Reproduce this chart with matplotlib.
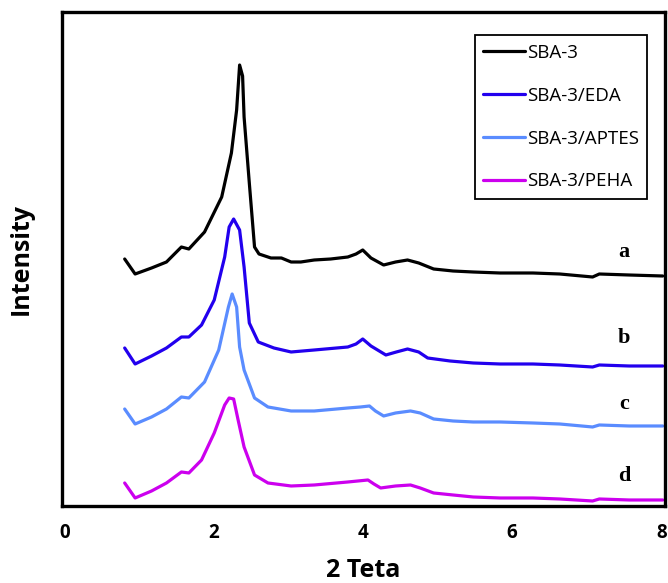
import matplotlib
matplotlib.use('Agg')
import matplotlib.pyplot as plt

# 2 theta positions and intensities (arbitrary units)
x_a = [0.81, 0.95, 1.17, 1.37, 1.57, 1.67, 1.88, 2.11, 2.24, 2.31, 2.35, 2.39, 2.41, 2.48,
       2.55, 2.61, 2.77, 2.91, 3.04, 3.17, 3.35, 3.57, 3.80, 3.91, 4.00, 4.11, 4.28, 4.44,
       4.60, 4.75, 4.95, 5.21, 5.48, 5.84, 6.28, 6.64, 7.08, 7.17, 7.57, 8.02]
y_a = [247, 232, 238, 244, 259, 257, 274, 309, 353, 396, 441, 430, 389, 323,
       259, 252, 248, 248, 244, 244, 246, 247, 249, 252, 256, 248, 241, 244,
       246, 243, 237, 235, 234, 233, 233, 232, 229, 232, 231, 230]

x_b = [0.81, 0.95, 1.17, 1.37, 1.57, 1.67, 1.84, 2.01, 2.15, 2.21, 2.27, 2.35, 2.41, 2.48,
       2.60, 2.81, 3.04, 3.35, 3.80, 3.91, 4.00, 4.11, 4.31, 4.45, 4.60, 4.75, 4.87, 5.17,
       5.48, 5.84, 6.28, 6.64, 7.08, 7.17, 7.57, 8.02]
y_b = [158, 142, 150, 158, 169, 169, 181, 206, 249, 279, 287, 276, 239, 183,
       164, 158, 154, 156, 159, 162, 167, 160, 151, 154, 157, 154, 148, 145,
       143, 142, 142, 141, 139, 141, 140, 140]

x_c = [0.81, 0.95, 1.17, 1.37, 1.57, 1.67, 1.88, 2.07, 2.20, 2.25, 2.31, 2.35, 2.41, 2.55,
       2.73, 3.04, 3.35, 3.80, 3.97, 4.09, 4.17, 4.28, 4.44, 4.64, 4.77, 4.95, 5.21, 5.48,
       5.84, 6.28, 6.64, 7.08, 7.17, 7.57, 8.02]
y_c = [97, 82, 89, 97, 109, 108, 124, 156, 199, 212, 199, 159, 136, 108,
       99, 95, 95, 98, 99, 100, 95, 90, 93, 95, 93, 87, 85, 84,
       84, 83, 82, 79, 81, 80, 80]

x_d = [0.81, 0.95, 1.17, 1.37, 1.57, 1.67, 1.84, 2.01, 2.15, 2.21, 2.27, 2.33, 2.41, 2.55,
       2.73, 3.04, 3.35, 3.80, 4.07, 4.15, 4.24, 4.44, 4.64, 4.77, 4.95, 5.21, 5.48, 5.84,
       6.28, 6.64, 7.08, 7.17, 7.57, 8.02]
y_d = [23, 8, 15, 23, 34, 33, 46, 73, 101, 108, 107, 86, 59, 31,
       23, 20, 21, 24, 26, 22, 18, 20, 21, 18, 13, 11, 9, 8,
       8, 7, 5, 7, 6, 6]

series = [
    ("SBA-3", x_a, y_a, "black", "a"),
    ("SBA-3/EDA", x_b, y_b, "#2200ee", "b"),
    ("SBA-3/APTES", x_c, y_c, "#5a8cff", "c"),
    ("SBA-3/PEHA", x_d, y_d, "#cc00ee", "d"),
]
letter_y = [254, 168, 102, 30]

fig = plt.figure(figsize=(6.68, 5.83), dpi=100)
ax = fig.add_axes([0.0928, 0.1321, 0.9027, 0.8473])

for (name, xs, ys, col, lab), ly in zip(series, letter_y):
    ax.plot(xs, ys, color=col, lw=2.3, label=name, solid_joinstyle='round', solid_capstyle='round')
    ax.text(7.5, ly, lab, family='Liberation Serif', fontweight='bold', fontsize=16,
            ha='center', va='center')

ax.set_xlim(-0.03, 8.05)
ax.set_ylim(0, 494)
ax.set_xticks([0, 2, 4, 6, 8])
ax.set_yticks([])
ax.tick_params(axis='x', length=0, pad=12)
for t in ax.get_xticklabels():
    t.set_family('Open Sans'); t.set_fontweight('bold'); t.set_fontsize(13.5)
for sp in ax.spines.values():
    sp.set_linewidth(2.4)

ax.set_xlabel("2 Teta", family='Open Sans', fontweight='bold', fontsize=18, labelpad=11)
ax.set_ylabel("Intensity", family='Open Sans', fontweight='bold', fontsize=18, labelpad=20)

leg = ax.legend(loc='upper left', bbox_to_anchor=(0.685, 0.953), frameon=True, fancybox=False,
                edgecolor='black', framealpha=1, prop={'family': 'Open Sans', 'size': 13.5},
                handlelength=2.2, handletextpad=0.1, labelspacing=1.33, borderpad=0.45,
                borderaxespad=0)
leg.get_frame().set_linewidth(1.3)

fig.savefig("out.png", dpi=100)
